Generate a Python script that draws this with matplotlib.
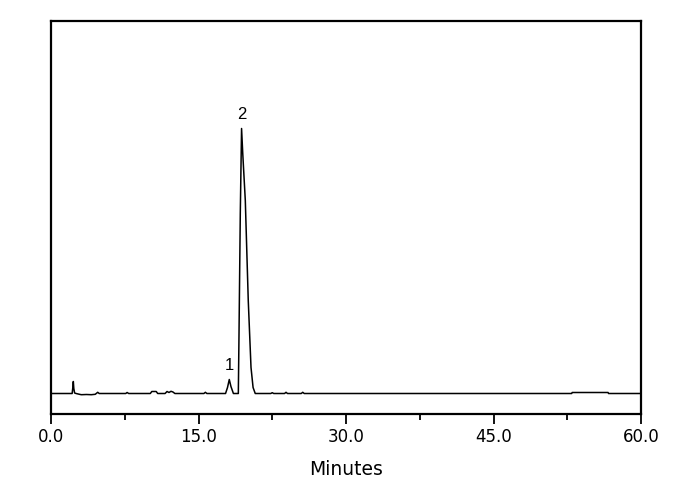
import matplotlib
matplotlib.use("Agg")
import matplotlib.pyplot as plt
from matplotlib.ticker import MultipleLocator, FormatStrFormatter

# Chromatogram trace (minutes, detector signal in arbitrary units)
time = [0.0, 2.15, 2.22, 2.27, 2.32, 2.40, 2.55, 2.98, 3.1, 3.6, 4.1, 4.5, 4.6, 4.75, 4.9,
        7.6, 7.74, 7.9,
        10.1, 10.25, 10.7, 10.85,
        11.6, 11.8, 12.0, 12.2, 12.4, 12.6,
        15.55, 15.7, 15.85,
        17.75, 17.95, 18.13, 18.3, 18.55,
        19.05, 19.12, 19.25, 19.38, 19.5, 19.76, 20.06, 20.34, 20.55, 20.77,
        22.35, 22.5, 22.65,
        23.75, 23.9, 24.05,
        25.45, 25.6, 25.75,
        52.95, 53.0, 56.65, 56.7, 60.0]
signal = [0.0, 0.0, 6.0, 12.0, 5.0, 0.5, 0.0, -1.0, -1.2, -1.0, -1.2, -0.8, 0.0, 1.2, 0.0,
          0.0, 1.0, 0.0,
          0.0, 2.0, 2.0, 0.0,
          0.0, 2.0, 1.0, 2.2, 1.5, 0.0,
          0.0, 1.2, 0.0,
          0.0, 6.0, 14.0, 7.0, 0.0,
          0.0, 60.0, 180.0, 265.0, 240.0, 193.0, 93.0, 26.0, 6.0, 0.0,
          0.0, 0.8, 0.0,
          0.0, 1.2, 0.0,
          0.0, 1.2, 0.0,
          0.0, 1.0, 1.0, 0.0, 0.0]

peak_labels = ["1", "2"]
peak_times = [18.13, 19.38]
peak_heights = [14.0, 265.0]

x_ticks = [0, 15, 30, 45, 60]

fig = plt.figure(figsize=(6.9, 4.9), dpi=100)
ax = fig.add_axes([51 / 690, 1 - 414 / 490, (641 - 51) / 690, (414 - 21) / 490])

ax.plot(time, signal, color="black", linewidth=1.1)

for lab, t, h in zip(peak_labels, peak_times, peak_heights):
    ax.annotate(lab, xy=(t, h), xytext=(0, 5), textcoords="offset points",
                ha="center", va="bottom", fontsize=12, family="Liberation Sans")

ax.set_xlim(0, 60)
ax.set_ylim(-20.5, 372.5)
ax.set_xticks(x_ticks)
ax.xaxis.set_major_formatter(FormatStrFormatter("%.1f"))
ax.xaxis.set_minor_locator(MultipleLocator(7.5))
ax.tick_params(axis="x", which="major", direction="out", length=7, width=1.3,
               labelsize=12, pad=3)
ax.tick_params(axis="x", which="minor", direction="out", length=4.5, width=1.3)
ax.set_yticks([])
for lab in ax.get_xticklabels():
    lab.set_family("DejaVu Sans")

for sp in ax.spines.values():
    sp.set_linewidth(1.6)

ax.set_xlabel("Minutes", fontsize=13.5, family="DejaVu Sans", labelpad=10)

fig.savefig("out.png", dpi=100)
